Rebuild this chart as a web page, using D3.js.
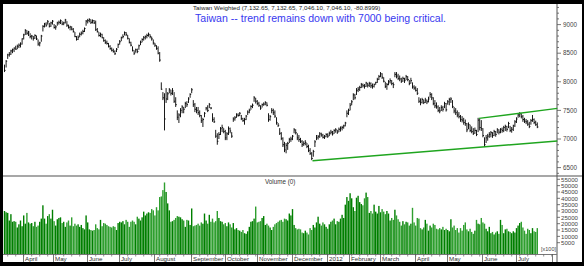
<!DOCTYPE html>
<html>
<head>
<meta charset="utf-8">
<script src="https://cdn.jsdelivr.net/npm/d3@7"></script>
<style>
  body { margin: 0; background: #fff; }
  svg { display: block; }
  text { font-family: 'Liberation Sans', Arial, sans-serif; }
</style>
</head>
<body>
<div id="chart"></div>
<script>
// daily bars, mid-March 2011 .. mid-July 2012
const lows = [
  8170,8250,8400,8440,8470,8500,8520,8560,8570,8590, 8600,8650,8740,8820,8820,8800,8760,8740,8720,8750,
  8730,8630,8620,8700,8880,8950,8960,9000,8950,8960, 9000,8930,8910,8980,9000,9010,8990,8990,9020,8960,
  8930,8900,8900,8860,8780,8720,8730,8780,8810,8830, 8870,8980,9020,9040,9010,9020,9010,8890,8860,8790,
  8780,8760,8700,8660,8650,8600,8560,8530,8510,8470, 8520,8590,8650,8710,8760,8810,8800,8740,8670,8620,
  8530,8470,8510,8500,8560,8640,8690,8720,8740,8760, 8790,8760,8720,8650,8610,8560,8480,8350,7860,7680,
  7150,7630,7680,7800,7760,7770,7630,7560,7330,7280, 7380,7450,7450,7540,7560,7630,7720,7800,7560,7470,
  7450,7420,7380,7280,7210,7380,7500,7470,7540,7520, 7300,7280,7020,6900,7000,7070,7120,7100,6980,6980,
  7070,7100,7020,7300,7320,7370,7390,7400,7330,7300, 7250,7330,7420,7450,7510,7540,7650,7620,7590,7560,
  7510,7550,7580,7590,7570,7300,7320,7450,7420,7370, 7250,7210,7070,6980,6860,6770,6750,6810,6930,6950,
  6980,7100,7080,6980,6950,6930,6860,6880,6890,6840, 6770,6720,6630,6690,6860,6980,6990,7020,7040,7010,
  7000,7030,7020,7050,7080,7060,7090,7110,7090,7120, 7130,7150,7180,7220,7380,7420,7500,7590,7680,7690,
  7770,7820,7840,7890,7900,7880,7910,7900,7910,7890, 7880,7900,7950,7980,8030,8080,8050,7990,7890,7860,
  7940,7970,7940,7890,8080,8060,8030,8010,7980,8000, 7980,8030,8010,7940,7970,7880,7860,7830,7770,7630,
  7590,7620,7610,7630,7610,7640,7720,7680,7590,7540, 7530,7470,7450,7490,7480,7540,7480,7600,7590,7630,
  7540,7450,7420,7380,7360,7300,7290,7250,7230,7120, 7170,7120,7100,7070,7090,7050,7120,7150,7140,7030,
  6860,6930,6970,7020,7030,7020,7050,7040,7100,7080, 7100,7110,7120,7140,7130,7190,7120,7110,7140,7210,
  7280,7370,7380,7360,7300,7280,7260,7230,7190,7250, 7300,7260,7230,7190
];
const highs = [
  8300,8380,8490,8520,8560,8580,8600,8630,8650,8670, 8690,8760,8840,8920,8900,8890,8850,8820,8800,8830,
  8810,8740,8700,8820,8990,9030,9040,9080,9030,9050, 9080,9010,8990,9050,9070,9090,9060,9050,9100,9060,
  9000,8980,8970,8940,8870,8800,8810,8860,8880,8910, 8950,9080,9100,9110,9090,9090,9080,9070,8940,8870,
  8860,8840,8780,8740,8720,8680,8640,8600,8580,8550, 8590,8670,8730,8790,8830,8880,8870,8820,8760,8700,
  8620,8550,8580,8580,8650,8720,8760,8800,8810,8840, 8860,8830,8790,8740,8680,8640,8620,8520,7990,7820,
  7800,7890,7820,7890,7860,7890,7820,7730,7500,7450, 7540,7590,7560,7650,7660,7730,7800,7890,7680,7630,
  7560,7560,7500,7420,7370,7470,7560,7590,7630,7560, 7450,7380,7160,7100,7120,7210,7250,7190,7160,7120,
  7220,7200,7120,7380,7400,7450,7450,7470,7420,7370, 7370,7420,7500,7530,7590,7620,7750,7720,7680,7650,
  7590,7620,7640,7660,7640,7450,7420,7540,7530,7500, 7380,7280,7190,7120,7030,6950,6930,6950,7020,7040,
  7070,7190,7170,7100,7070,7020,6980,6960,6980,6930, 6900,6840,6770,6810,6980,7070,7070,7120,7110,7090,
  7070,7100,7100,7130,7160,7140,7170,7190,7160,7200, 7220,7230,7250,7300,7500,7530,7630,7680,7800,7790,
  7890,7910,7930,7980,7970,7960,8000,7980,8000,7990, 7970,7970,8000,8070,8120,8170,8150,8080,8000,7980,
  8030,8060,8030,7990,8170,8170,8140,8110,8070,8090, 8070,8120,8100,8030,8070,7990,7940,7920,7890,7730,
  7710,7720,7690,7720,7690,7740,7820,7800,7730,7680, 7640,7590,7560,7590,7580,7650,7630,7680,7720,7730,
  7680,7560,7540,7500,7470,7420,7400,7370,7340,7280, 7290,7250,7220,7190,7200,7160,7370,7350,7330,7190,
  7030,7070,7090,7120,7140,7120,7160,7140,7190,7170, 7190,7200,7230,7250,7230,7300,7230,7210,7250,7330,
  7380,7450,7470,7450,7420,7370,7350,7330,7300,7350, 7420,7360,7320,7290
];
const closes = [
  8200,8360,8470,8480,8540,8560,8590,8570,8620,8640, 8660,8750,8820,8900,8850,8870,8790,8800,8760,8810,
  8750,8660,8680,8800,8970,9010,8990,9050,8970,9030, 9060,8950,8960,9030,9040,9070,9010,9030,9080,8990,
  8950,8960,8920,8880,8790,8740,8780,8830,8850,8880, 8930,9060,9070,9090,9040,9070,9030,8910,8880,8810,
  8830,8770,8720,8690,8670,8620,8580,8550,8530,8490, 8570,8650,8700,8770,8790,8860,8830,8760,8690,8640,
  8550,8500,8560,8530,8630,8690,8740,8770,8790,8810, 8830,8790,8750,8680,8640,8580,8500,8380,7870,7720,
  7350,7700,7790,7860,7800,7840,7660,7600,7380,7420, 7500,7560,7520,7620,7600,7700,7780,7860,7600,7520,
  7500,7460,7410,7320,7340,7450,7540,7500,7600,7540, 7340,7300,7050,6960,7080,7180,7200,7130,7020,7090,
  7180,7140,7050,7350,7370,7420,7410,7450,7360,7320, 7340,7400,7470,7500,7570,7590,7720,7660,7620,7590,
  7540,7600,7610,7640,7590,7340,7390,7500,7460,7400, 7290,7240,7100,7010,6900,6810,6890,6920,6990,7000,
  7050,7160,7110,7020,6990,6960,6900,6920,6940,6870, 6800,6750,6660,6780,6950,7020,7040,7090,7070,7030,
  7040,7080,7050,7100,7120,7090,7150,7160,7120,7170, 7190,7200,7230,7280,7450,7500,7590,7650,7770,7720,
  7850,7870,7900,7950,7930,7920,7980,7940,7970,7930, 7920,7950,7990,8040,8090,8140,8080,8010,7920,7950,
  8000,8020,7970,7950,8130,8100,8060,8050,8010,8060, 8020,8090,8040,7970,8020,7910,7890,7850,7800,7660,
  7640,7690,7640,7680,7650,7700,7780,7720,7620,7580, 7560,7500,7490,7550,7520,7620,7510,7650,7690,7700,
  7570,7490,7460,7420,7390,7340,7330,7290,7270,7160, 7250,7150,7130,7100,7150,7080,7330,7200,7180,7060,
  6900,7020,7050,7080,7110,7060,7130,7080,7160,7120, 7170,7150,7200,7220,7170,7270,7150,7170,7230,7300,
  7350,7420,7440,7390,7340,7310,7300,7260,7220,7320, 7340,7290,7250,7210
];
const volumes = [
  30000,29000,28500,22500,27500,21500,22000,21500,17000,19500, 22500,18000,26500,20000,28500,21000,20000,20500,18000,21500,
  17500,18500,21500,24000,34500,24000,20000,26000,27500,24000, 31000,22000,18500,23500,24500,25000,20500,21500,17500,21000,
  22500,18500,25000,18000,20000,18500,19500,17500,19000,16500, 15500,26500,21000,15500,15000,14500,15000,19500,16500,15500,
  23000,18000,20500,20000,19000,18000,17500,17000,18000,17500, 15000,20500,21500,21000,22000,19500,23000,21500,17500,21500,
  22500,21500,19500,25500,24000,22500,25000,29500,26500,28000, 29000,28500,31500,30500,26500,33000,30500,41000,41500,46500,
  52500,45000,36000,30500,21500,22000,23000,24500,26000,25500, 25000,23500,22500,17500,23000,22500,19000,32000,18000,18500,
  19000,20000,18500,21000,20000,28000,22500,20000,27000,21500, 24000,21000,22000,30000,24500,22000,21500,19500,20500,18000,
  21000,19500,17000,20500,15500,16500,15000,14500,13500,15000, 12500,12000,14000,17500,21500,22000,24000,33500,21000,21500,
  22000,24500,26000,19000,20000,18500,17000,15000,17500,19500, 20500,21500,22500,23000,21500,24000,23500,22500,28000,26500,
  31500,19000,16500,15500,16000,15500,13000,12500,14500,13000, 11500,16500,15000,19000,17000,21000,25500,20000,18500,21000,
  19500,17500,16000,19500,21500,22500,24000,19500,22000,21500, 24000,27000,24500,35000,41000,38000,44000,40000,33000,30000,
  40500,42000,37000,35500,34500,40000,44500,41000,28500,30000, 28000,35000,29500,28000,34000,29000,31500,29500,27500,30000,
  28000,22500,24500,23000,31000,26500,23500,21500,18500,22000, 19500,21500,21000,18500,20000,32500,21000,18500,24500,24000,
  16500,15500,17000,23000,20000,14500,18500,17000,20000,19000, 16000,15500,16500,15500,17500,15000,16000,15000,14000,23500,
  17000,18500,15000,16500,13000,16500,14500,19000,21000,15500, 14000,16000,13500,12000,14500,23000,20000,19500,24500,21000,
  20000,16000,14000,17500,12500,13500,11500,13000,14000,12000, 23000,19000,12500,15500,16000,14000,13500,12500,14000,13000,
  16500,18500,20500,21500,17000,14500,12000,16000,15000,12500, 16500,14000,13500,16500
];

const monthLabels = ['April','May','June','July','August','September','October','November','December','2012','February','March','April','May','June','July',''];
const monthStarts = [12,31,52,72,94,117,138,158,180,202,216,235,257,277,299,320,343];
const priceTicks = [6500,7000,7500,8000,8500,9000];
const volumeTicks = [5000,10000,15000,20000,25000,30000,35000,40000,45000,50000,55000];

// green trend lines: [bar index, price]
const lowerTrend = [[192.5,6620],[345.5,6965]];
const upperTrend = [[296.5,7360],[345.5,7535]];

const titleText = 'Taiwan Weighted (7,132.65, 7,132.65, 7,046.10, 7,046.10, -80.8999)';
const noteText = 'Taiwan -- trend remains down with 7000 being critical.';

const W = 584, H = 266;
const axisX = 557, sepY = 176, baseY = 254;

const svg = d3.select('#chart').append('svg')
  .attr('width', W).attr('height', H);

// frame
svg.append('rect').attr('width', W).attr('height', H).attr('fill', '#000');
svg.append('rect').attr('x', 3).attr('y', 4).attr('width', 579).attr('height', 258).attr('fill', '#fff');

const x = d3.scaleLinear().domain([0, 345]).range([4.5, 556.5]);
const y = d3.scaleLinear().domain([6500, 9000]).range([167.6, 24.6]);
const yv = d3.scaleLinear().domain([5000, 55000]).range([242.7, 179.3]);

// pane separator + axes lines
svg.append('line').attr('x1', 3).attr('x2', 582).attr('y1', sepY).attr('y2', sepY)
  .attr('stroke', '#8a8a8a').attr('stroke-width', 1.5);
svg.append('line').attr('x1', axisX).attr('x2', axisX).attr('y1', 4).attr('y2', 262)
  .attr('stroke', '#555').attr('stroke-width', 1);
svg.append('line').attr('x1', 3).attr('x2', axisX).attr('y1', baseY + 0.5).attr('y2', baseY + 0.5)
  .attr('stroke', '#777').attr('stroke-width', 1);

// price axis
const priceAxis = svg.append('g');
d3.range(6400, 9400, 100).forEach(v => {
  const yy = y(v);
  if (yy < 6 || yy > sepY - 2) return;
  priceAxis.append('line').attr('x1', axisX).attr('x2', axisX + (v % 500 === 0 ? 4 : 2))
    .attr('y1', yy).attr('y2', yy).attr('stroke', '#555').attr('stroke-width', 0.8);
});
priceAxis.selectAll('text').data(priceTicks).enter().append('text')
  .attr('x', 563).attr('y', d => y(d) + 2.2)
  .attr('font-size', 6.3).attr('fill', '#444')
  .text(d => d);

// volume axis
const volAxis = svg.append('g');
volAxis.selectAll('line').data(volumeTicks).enter().append('line')
  .attr('x1', axisX).attr('x2', axisX + 3)
  .attr('y1', d => yv(d)).attr('y2', d => yv(d))
  .attr('stroke', '#555').attr('stroke-width', 0.8);
volAxis.selectAll('text').data(volumeTicks).enter().append('text')
  .attr('x', 561).attr('y', d => yv(d) + 2.2)
  .attr('font-size', 6.1).attr('fill', '#444')
  .text(d => d);
svg.append('text').attr('x', 541).attr('y', 251).attr('font-size', 5.5).attr('fill', '#444')
  .text('[x100]');

// volume bars
svg.append('g').selectAll('rect').data(volumes).enter().append('rect')
  .attr('x', (d, i) => x(i) - 0.7)
  .attr('width', 1.4)
  .attr('y', d => yv(d))
  .attr('height', d => baseY - yv(d))
  .attr('fill', (d, i) => (i > 0 && closes[i] < closes[i - 1]) ? '#2f9f2f' : '#007f00');

svg.append('text').attr('x', 265).attr('y', 183.5).attr('font-size', 6.3).attr('fill', '#333')
  .text('Volume (0)');

// OHLC bars
const bars = svg.append('g').attr('stroke', '#000');
closes.forEach((c, i) => {
  const xx = x(i);
  bars.append('line').attr('x1', xx).attr('x2', xx)
    .attr('y1', y(highs[i])).attr('y2', y(lows[i])).attr('stroke-width', 0.9);
  bars.append('line').attr('x1', xx).attr('x2', xx + 1.1)
    .attr('y1', y(c)).attr('y2', y(c)).attr('stroke-width', 0.9);
});

// trend lines
const trend = d3.line().x(d => x(d[0])).y(d => y(d[1]));
[lowerTrend, upperTrend].forEach(t => {
  svg.append('path').attr('d', trend(t)).attr('fill', 'none')
    .attr('stroke', '#1fa51f').attr('stroke-width', 1.4);
});

// month axis
const monthAxis = svg.append('g');
d3.range(2, 345, 5).forEach(i => {
  monthAxis.append('line').attr('x1', x(i)).attr('x2', x(i)).attr('y1', baseY).attr('y2', baseY + 2.5)
    .attr('stroke', '#666').attr('stroke-width', 0.7);
});
monthStarts.forEach((s, k) => {
  const xx = Math.round(x(s - 0.5)) + 0.5;
  monthAxis.append('line').attr('x1', xx).attr('x2', xx).attr('y1', baseY).attr('y2', 262)
    .attr('stroke', '#555').attr('stroke-width', 0.8);
  monthAxis.append('text').attr('x', xx + 1.5).attr('y', 261).attr('font-size', 6.2).attr('fill', '#333')
    .text(monthLabels[k]);
});

// titles
svg.append('text').attr('x', 193).attr('y', 9.6).attr('font-size', 6.2).attr('fill', '#222')
  .text(titleText);
svg.append('text').attr('x', 195).attr('y', 21.7).attr('font-size', 11.8).attr('fill', '#3838f0')
  .attr('textLength', 251).attr('lengthAdjust', 'spacingAndGlyphs')
  .text(noteText);
</script>
</body>
</html>
